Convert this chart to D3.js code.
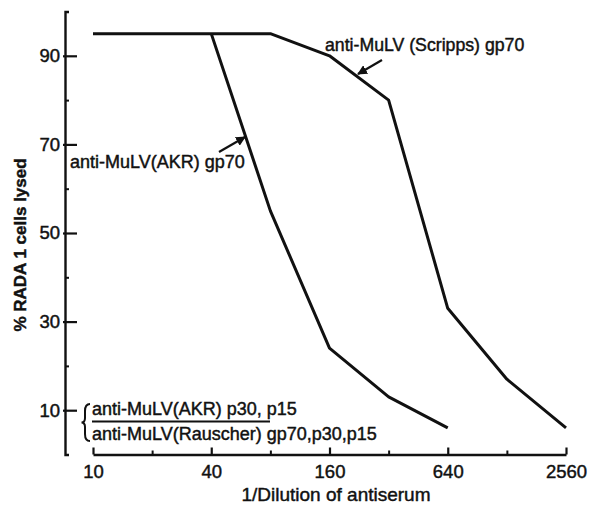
<!DOCTYPE html>
<html>
<head>
<meta charset="utf-8">
<script src="https://cdn.jsdelivr.net/npm/d3@7"></script>
<style>
  html, body { margin: 0; padding: 0; background: #fff; }
  svg { display: block; }
  text { font-family: "Liberation Sans", Arial, sans-serif; fill: #111; stroke: #111; stroke-width: 0.45px; }
</style>
</head>
<body>
<svg id="chart" width="591" height="507"></svg>
<script>
// Reciprocal antiserum dilutions (log2 axis)
const majorDilutions = [10, 40, 160, 640, 2560];
const minorDilutions = [20, 80, 320, 1280];
const majorPercents = [10, 30, 50, 70, 90];
const minorPercents = [20, 40, 60, 80];

// % RADA 1 cells lysed for each antiserum
const scrippsDilution = [10, 80, 160, 320, 640, 1280, 2560];
const scrippsLysis = [95, 95, 90, 80, 33, 17, 6];
const akrDilution = [40, 80, 160, 320, 640];
const akrLysis = [95, 55, 24, 13, 6];

const svg = d3.select("#chart");
const axisX = 65;     // y-axis position
const baseY = 454.5;  // x-axis position

const x = d3.scaleLog().base(2).domain([10, 2560]).range([93, 566]);
const y = d3.scaleLinear().domain([0, 100]).range([baseY, 11.5]);

const ink = "#111";
const fontFamily = '"Liberation Sans", Arial, sans-serif';

// Y axis: major ticks with labels, ticks pointing into the plot
const yAxis = svg.append("g").attr("transform", `translate(${axisX},0)`)
  .call(d3.axisLeft(y).tickValues(majorPercents).tickSizeInner(-12).tickSizeOuter(-4)
    .tickPadding(5).tickFormat(d3.format("d")));
yAxis.select(".domain").attr("stroke", ink).attr("stroke-width", 2.4).attr("fill", "none");
yAxis.selectAll(".tick line").attr("stroke", ink).attr("stroke-width", 2.2).attr("x1", -2);
yAxis.selectAll(".tick text").attr("font-size", 18.5).attr("fill", ink)
  .style("font-family", fontFamily);

const yMinor = svg.append("g").attr("transform", `translate(${axisX},0)`)
  .call(d3.axisLeft(y).tickValues(minorPercents).tickSize(-4).tickFormat(""));
yMinor.select(".domain").remove();
yMinor.selectAll(".tick line").attr("stroke", ink).attr("stroke-width", 2);

// X axis: log2 dilution scale, ticks pointing up
const xAxis = svg.append("g").attr("transform", `translate(0,${baseY})`)
  .call(d3.axisBottom(x).tickValues(majorDilutions).tickSizeInner(-7).tickSizeOuter(0)
    .tickPadding(10).tickFormat(d3.format("d")));
xAxis.select(".domain").attr("stroke", ink).attr("stroke-width", 2.4);
xAxis.selectAll(".tick line").attr("stroke", ink).attr("stroke-width", 2.2);
xAxis.selectAll(".tick text").attr("font-size", 18.5).attr("fill", ink)
  .style("font-family", fontFamily);

const xMinor = svg.append("g").attr("transform", `translate(0,${baseY})`)
  .call(d3.axisBottom(x).tickValues(minorDilutions).tickSize(-4).tickFormat(""));
xMinor.select(".domain").remove();
xMinor.selectAll(".tick line").attr("stroke", ink).attr("stroke-width", 2);

// Axis titles
svg.append("text")
  .attr("transform", `translate(26,245) rotate(-90)`)
  .attr("text-anchor", "middle")
  .attr("font-size", 17).attr("font-weight", "bold")
  .text("% RADA 1 cells lysed");

svg.append("text")
  .attr("x", 336).attr("y", 501)
  .attr("text-anchor", "middle")
  .attr("font-size", 19)
  .text("1/Dilution of antiserum");

// Lysis curves
const line = d3.line().x(d => x(d[0])).y(d => y(d[1]));
const curves = [
  d3.zip(scrippsDilution, scrippsLysis),
  d3.zip(akrDilution, akrLysis)
];
svg.selectAll("path.curve").data(curves).join("path")
  .attr("class", "curve")
  .attr("d", line)
  .attr("fill", "none").attr("stroke", ink)
  .attr("stroke-width", 3).attr("stroke-linejoin", "round");

// Arrowhead marker for curve annotations
svg.append("defs").append("marker")
  .attr("id", "arrow").attr("viewBox", "0 0 10 10")
  .attr("refX", 9).attr("refY", 5)
  .attr("markerWidth", 4.5).attr("markerHeight", 4.5)
  .attr("orient", "auto")
  .append("path").attr("d", "M0,0 L10,5 L0,10 Z").attr("fill", ink);

// Curve labels
svg.append("text").attr("x", 325).attr("y", 51).attr("font-size", 17.7)
  .text("anti-MuLV (Scripps) gp70");
svg.append("line").attr("x1", 382).attr("y1", 60).attr("x2", 358).attr("y2", 74)
  .attr("stroke", ink).attr("stroke-width", 2.2).attr("marker-end", "url(#arrow)");

svg.append("text").attr("x", 70).attr("y", 168).attr("font-size", 18)
  .text("anti-MuLV(AKR) gp70");
svg.append("line").attr("x1", 219).attr("y1", 152).attr("x2", 245).attr("y2", 137)
  .attr("stroke", ink).attr("stroke-width", 2.2).attr("marker-end", "url(#arrow)");

// Non-lytic antisera grouped with a brace
svg.append("path")
  .attr("d", "M90,404 Q85,404 85,411 L85,418 Q85,422.5 81.5,422.5 Q85,422.5 85,427 L85,434 Q85,441 90,441")
  .attr("fill", "none").attr("stroke", ink).attr("stroke-width", 2);
svg.append("text").attr("x", 92).attr("y", 415).attr("font-size", 18)
  .text("anti-MuLV(AKR) p30, p15");
svg.append("line").attr("x1", 92).attr("x2", 270).attr("y1", 421.5).attr("y2", 421.5)
  .attr("stroke", ink).attr("stroke-width", 2);
svg.append("text").attr("x", 92).attr("y", 440).attr("font-size", 18)
  .text("anti-MuLV(Rauscher) gp70,p30,p15");
</script>
</body>
</html>
